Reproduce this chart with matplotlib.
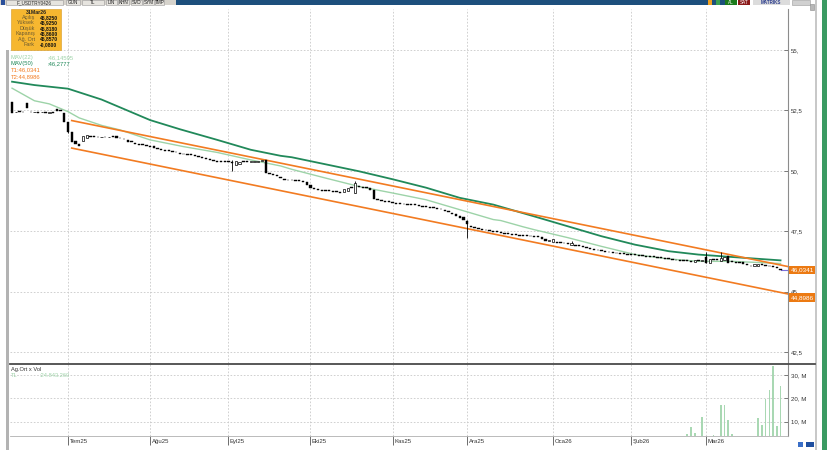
import matplotlib
matplotlib.use('Agg')
import matplotlib.pyplot as plt
import matplotlib.transforms as mtransforms
from matplotlib.patches import Rectangle
import numpy as np
import pandas as pd

plt.rcParams['font.family'] = ['Liberation Sans', 'DejaVu Sans']

W, H = 833, 450

# ---------------- data ----------------
start_date = '2025-06-10'
end_date = '2026-03-31'
holidays = ['2025-07-15', '2025-10-29', '2026-01-01', '2026-03-20']

open_jun = [52.85, 52.42, 52.45, 52.45, 52.80, 52.44, 52.42, 52.43, 52.42, 52.45, 52.40, 52.42, 52.56, 52.52, 52.40]
close_jun = [52.40, 52.45, 52.45, 52.42, 52.60, 52.42, 52.45, 52.40, 52.44, 52.40, 52.42, 52.38, 52.48, 52.46, 52.00]

open_jul = [52.00, 51.62, 51.22, 51.12, 51.25, 51.35, 51.42, 51.40, 51.40, 51.38, 51.40, 51.38, 51.44, 51.42,
            51.35, 51.33, 51.26, 51.24, 51.14, 51.10, 51.08, 51.06]
close_jul = [51.62, 51.20, 51.10, 51.02, 51.45, 51.48, 51.40, 51.40, 51.38, 51.40, 51.38, 51.39, 51.38, 51.37,
             51.34, 51.30, 51.20, 51.18, 51.10, 51.08, 51.06, 51.03]

open_aug = [51.04, 51.02, 50.94, 50.90, 50.86, 50.84, 50.80, 50.78, 50.72, 50.70, 50.68, 50.66, 50.64, 50.58,
            50.54, 50.50, 50.48, 50.45, 50.38, 50.37, 50.36]
close_aug = [50.98, 50.96, 50.92, 50.88, 50.84, 50.82, 50.79, 50.76, 50.70, 50.68, 50.66, 50.65, 50.62, 50.56,
             50.52, 50.48, 50.45, 50.42, 50.37, 50.36, 50.35]

open_sep = [50.36, 50.36, 50.26, 50.30, 50.38, 50.37, 50.36, 50.37, 50.38, 50.40, 50.45, 49.90, 49.86, 49.82,
            49.76, 49.64, 49.62, 49.60, 49.60, 49.58, 49.56, 49.55]
close_sep = [50.35, 50.34, 50.40, 50.38, 50.37, 50.36, 50.37, 50.38, 50.40, 50.42, 49.92, 49.87, 49.84, 49.78,
             49.72, 49.62, 49.60, 49.60, 49.58, 49.57, 49.55, 49.40]

open_oct = [49.42, 49.28, 49.22, 49.20, 49.18, 49.17, 49.16, 49.14, 49.12, 49.14, 49.18, 49.30, 49.10, 49.36,
            49.33, 49.30, 49.30, 49.22, 48.80, 48.77, 48.74, 48.72]
close_oct = [49.30, 49.24, 49.20, 49.18, 49.17, 49.16, 49.14, 49.12, 49.10, 49.26, 49.30, 49.30, 49.50, 49.34,
             49.30, 49.28, 49.22, 48.82, 48.78, 48.75, 48.72, 48.70]

open_nov = [48.70, 48.66, 48.64, 48.62, 48.61, 48.60, 48.58, 48.56, 48.53, 48.51, 48.49, 48.46, 48.44, 48.42,
            48.36, 48.32, 48.26, 48.20, 48.12, 48.08]
close_nov = [48.68, 48.64, 48.63, 48.61, 48.60, 48.58, 48.57, 48.54, 48.52, 48.50, 48.47, 48.45, 48.42, 48.40,
             48.32, 48.28, 48.22, 48.14, 48.06, 47.98]

open_dec = [47.92, 47.72, 47.66, 47.62, 47.58, 47.55, 47.52, 47.49, 47.47, 47.45, 47.42, 47.39, 47.37, 47.35,
            47.33, 47.32, 47.30, 47.28, 47.27, 47.26, 47.24, 47.16, 47.10]
close_dec = [47.78, 47.68, 47.63, 47.60, 47.56, 47.53, 47.50, 47.48, 47.46, 47.44, 47.40, 47.38, 47.36, 47.34,
             47.32, 47.30, 47.29, 47.28, 47.26, 47.25, 47.16, 47.08, 47.12]

open_jan = [47.06, 47.04, 47.02, 47.00, 46.99, 46.94, 46.92, 46.89, 46.86, 46.83, 46.78, 46.74, 46.71, 46.68,
            46.66, 46.63, 46.61, 46.59, 46.57, 46.56, 46.55]
close_jan = [47.18, 47.02, 47.00, 46.99, 46.98, 47.02, 46.90, 46.88, 46.85, 46.81, 46.75, 46.72, 46.70, 46.67,
             46.65, 46.62, 46.60, 46.58, 46.56, 46.55, 46.53]

open_feb = [46.52, 46.51, 46.50, 46.48, 46.46, 46.45, 46.43, 46.41, 46.39, 46.37, 46.35, 46.33, 46.30, 46.29,
            46.28, 46.26, 46.25, 46.22, 46.29, 46.28]
close_feb = [46.51, 46.50, 46.48, 46.47, 46.45, 46.44, 46.42, 46.40, 46.38, 46.36, 46.34, 46.31, 46.29, 46.28,
             46.27, 46.25, 46.24, 46.30, 46.28, 46.30]

open_mar = [46.42, 46.18, 46.33, 46.31, 46.28, 46.30, 46.48, 46.22, 46.21, 46.20, 46.24, 46.12, 46.07, 46.04,
            46.06, 46.10, 46.08, 46.06, 46.04, 46.02, 45.95]
close_mar = [46.20, 46.36, 46.31, 46.30, 46.38, 46.42, 46.18, 46.21, 46.20, 46.20, 46.12, 46.08, 46.04, 46.12,
             46.12, 46.09, 46.06, 46.04, 46.03, 45.98, 45.88]

wick_idx = [15, 59, 92, 122, 150, 186, 190]
wick_low = [51.55, 50.00, 49.10, 47.23, 46.94, 46.20, 46.28]
wick_high = [52.00, 50.45, 49.56, 47.95, 47.08, 46.65, 46.62]

mav22_idx = [0, 6, 10, 15, 18, 24, 29, 37, 46, 55, 64, 72, 75, 84, 93, 102, 111, 120, 129, 131, 137, 140,
             149, 158, 167, 176, 184, 193, 206]
mav22_val = [53.42, 52.90, 52.77, 52.45, 52.19, 51.88, 51.69, 51.28, 51.00, 50.76, 50.45, 50.20, 50.06, 49.70,
             49.35, 49.08, 48.80, 48.39, 47.98, 47.94, 47.68, 47.56, 47.23, 46.87, 46.53, 46.35, 46.25, 46.25, 46.16]

mav50_idx = [0, 6, 15, 24, 37, 45, 55, 64, 72, 75, 84, 93, 102, 111, 120, 129, 140, 149, 158, 167, 176, 184,
             193, 206]
mav50_val = [53.69, 53.55, 53.40, 52.95, 52.10, 51.72, 51.28, 50.87, 50.62, 50.56, 50.27, 49.98, 49.65, 49.30,
             48.88, 48.60, 48.11, 47.70, 47.29, 46.94, 46.67, 46.53, 46.43, 46.29]

trend_start_idx = 16
t1_vals = [52.08, 46.0341]
t2_vals = [50.94, 44.8986]

vol_idx = [179, 181, 182, 183, 184, 185, 188, 190, 191, 192, 193, 200, 201, 202, 203, 204, 205, 206]
vol_val = [3.9, 4.8, 7.9, 5.3, 4.0, 11.9, 4.2, 17.1, 17.0, 10.6, 4.8, 11.7, 8.7, 19.6, 23.5, 34.0, 8.0, 25.3]

month_labels = ['Tem25', 'Ağu25', 'Eyl25', 'Eki25', 'Kas25', 'Ara25', 'Oca26', 'Şub26', 'Mar26']
price_ticks = [42.5, 45, 47.5, 50, 52.5, 55]
price_tick_labels = ['42,5', '45,', '47,5', '50,', '52,5', '55,']
vol_ticks = [10, 20, 30]
vol_tick_labels = ['10, M', '20, M', '30, M']

info_title = '31Mar26'
info_labels = ['Açılış', 'Yüksek', 'Düşük', 'Kapanış', 'Ağ. Ort', 'Fark']
info_values = ['45,8250', '45,9250', '45,8180', '45,8600', '45,8570', '-0,0800']

legend_names = ['MAV(22)', 'MAV(50)', 'T1:46,0341', 'T2:44,8986']
legend_values = [':46,14595', ':46,2777', '', '']
vol_title = 'Ag.Ort x Vol'
vol_avg_label = 'TL'
vol_avg_value = ':24.843.260'

# ---------------- colours ----------------
C_MAV22 = '#9dd3a8'
C_MAV50 = '#21895a'
C_TREND = '#f27b21'
C_GRID = '#c9c9c9'
C_VOL = '#a9d8b3'
C_TEXT = '#333333'

# ---------------- build ----------------
dates = pd.bdate_range(start_date, end_date)
dates = dates[~dates.isin(pd.to_datetime(holidays))]
opens = np.array(open_jun + open_jul + open_aug + open_sep + open_oct + open_nov + open_dec + open_jan + open_feb + open_mar)
closes = np.array(close_jun + close_jul + close_aug + close_sep + close_oct + close_nov + close_dec + close_jan + close_feb + close_mar)
n = min(len(dates), len(closes))
dates = dates[:n]
opens = opens[:n]
closes = closes[:n]
idx = np.arange(n)
ser = pd.Series(idx, index=dates)
month_idx = [int(g.iloc[0]) for _, g in ser.groupby([dates.year, dates.month])][1:]

fig = plt.figure(figsize=(W / 100, H / 100), dpi=100)
fig.patch.set_facecolor('white')


def px_rect(l, t, r, b):
    return [l / W, 1 - b / H, (r - l) / W, (b - t) / H]


ax = fig.add_axes(px_rect(10, 9, 788, 363))
vax = fig.add_axes(px_rect(10, 364, 788, 436), sharex=ax)
XL, XR = -0.55, 208.0
ax.set_xlim(XL, XR)
ax.set_ylim(42.04, 56.70)
vax.set_ylim(3.86, 34.76)

for a in (ax, vax):
    for s in ('left', 'top', 'bottom'):
        a.spines[s].set_visible(False)
    a.spines['right'].set_color('#8c8c8c')
    a.spines['right'].set_linewidth(0.8)
    a.yaxis.tick_right()
    a.tick_params(axis='y', direction='in', length=3, width=0.6, color='#666666',
                  labelsize=4.4, labelcolor=C_TEXT, pad=2)
    a.set_xticks(month_idx)
    a.grid(True, color=C_GRID, linestyle=(0, (2, 2)), linewidth=0.6)
    a.set_axisbelow(True)

ax.set_yticks(price_ticks)
ax.set_yticklabels(price_tick_labels)
ax.tick_params(axis='x', length=0, labelbottom=False)
vax.set_yticks(vol_ticks)
vax.set_yticklabels(vol_tick_labels)
vax.tick_params(axis='x', direction='out', length=6.5, width=0.6, color='#555555', labelbottom=False)

# moving averages
ax.plot(mav22_idx, mav22_val, color=C_MAV22, lw=1.0, zorder=2)
ax.plot(mav50_idx, mav50_val, color=C_MAV50, lw=1.3, zorder=2)

# trend lines
ax.plot([trend_start_idx, XR], t1_vals, color=C_TREND, lw=1.2, zorder=3)
ax.plot([trend_start_idx, XR], t2_vals, color=C_TREND, lw=1.2, zorder=3)

# last price line
ax.plot([idx[-1], XR], [closes[-1], closes[-1]], color='#7b6fd8', lw=0.8, zorder=3)

# candles
up = closes > opens
lo = np.minimum(opens, closes)
hgt = np.maximum(np.abs(closes - opens), 0.035)
ax.vlines(wick_idx, wick_low, wick_high, color='black', lw=0.6, zorder=4)
ax.bar(idx[~up], hgt[~up], bottom=lo[~up], width=0.62, color='black', edgecolor='black', lw=0.3, zorder=5)
ax.bar(idx[up], hgt[up], bottom=lo[up], width=0.62, color='white', edgecolor='black', lw=0.5, zorder=5)

# volume
vax.bar(vol_idx, vol_val, width=0.45, color=C_VOL, zorder=3)

# value boxes on right axis
btr = mtransforms.blended_transform_factory(ax.transAxes, ax.transData)
btr = mtransforms.offset_copy(btr, fig=fig, x=2.5, y=-3.5, units='dots')
for v in (t1_vals[1], t2_vals[1]):
    ax.text(1.0, v, f'{v:.4f}'.replace('.', ','), transform=btr, fontsize=4.6, color='white',
            ha='left', va='center', clip_on=False, zorder=20,
            bbox=dict(boxstyle='square,pad=0.3', fc='#ec7a12', ec='none'))

# month labels
vtr = mtransforms.blended_transform_factory(vax.transData, vax.transAxes)
for mi, lab in zip(month_idx, month_labels):
    vax.text(mi + 0.4, -0.035, lab, transform=vtr, fontsize=4.3, color=C_TEXT,
             ha='left', va='top', clip_on=False)

# ---------------- overlay decorations (pixel space) ----------------
ov = fig.add_axes([0, 0, 1, 1], zorder=10)
ov.set_xlim(0, W)
ov.set_ylim(H, 0)
ov.axis('off')
ov.patch.set_visible(False)

# toolbar
ov.add_patch(Rectangle((0, 0), 176, 5, fc='#d6d3cc', ec='none'))
ov.add_patch(Rectangle((176, 0), 549, 5, fc='#1d4f7c', ec='none'))
ov.add_patch(Rectangle((1, 0), 4, 4.5, fc='#2a4f9a', ec='none'))
buttons = [('F_USDTRY0426', 6, 63), ('GUN', 66, 80), ('TL', 82, 104), ('LIN', 106, 117), ('KHN', 118, 129),
           ('SVD', 131, 142), ('SYM', 143, 154), ('TMP', 155, 164)]
for t, a0, a1 in buttons:
    ov.add_patch(Rectangle((a0, 0), a1 - a0, 4.5, fc='#e6e4df', ec='#9a9a9a', lw=0.4))
    ov.text((a0 + a1) / 2, 2.6, t, fontsize=3.3, ha='center', va='center', color='#222222')
ov.add_patch(Rectangle((708, 0), 4, 4.5, fc='#f0a020', ec='none'))
ov.add_patch(Rectangle((716, 0), 4, 4.5, fc='#3aa050', ec='none'))
ov.add_patch(Rectangle((725, 0), 12, 4.5, fc='#1b7a1b', ec='none'))
ov.text(731, 2.6, 'AL', fontsize=3.3, ha='center', va='center', color='white')
ov.add_patch(Rectangle((738, 0), 12, 4.5, fc='#8b1a1a', ec='none'))
ov.text(744, 2.6, 'SAT', fontsize=3.3, ha='center', va='center', color='white')
ov.add_patch(Rectangle((753, 0), 37, 4.5, fc='#dcdcdc', ec='none'))
ov.text(771, 2.6, 'MATRİKS', fontsize=3.3, ha='center', va='center', color='#2a3b8c', fontweight='bold')
ov.add_patch(Rectangle((792, 0), 18, 4.5, fc='#d0d0d0', ec='#9a9a9a', lw=0.4))
ov.add_patch(Rectangle((810, 4), 4, 6, fc='#b8b8b8', ec='#8a8a8a', lw=0.4))

# left gray bar, right border and green strip
ov.add_patch(Rectangle((6, 50), 3.5, 400, fc='#b3b3b3', ec='none'))
ov.add_patch(Rectangle((815.5, 0), 2, 450, fc='#c8c8c8', ec='none'))
ov.add_patch(Rectangle((822, 0), 5.5, 450, fc='#3b9b63', ec='none'))

# separator between panels and bottom line
ov.plot([10, 815], [363.8, 363.8], color='#4a4a4a', lw=1.3)
ov.plot([10, 788], [436.2, 436.2], color='#b0b0b0', lw=0.6)

# bottom right icons
ov.add_patch(Rectangle((798, 442), 5, 5, fc='#3a6fc8', ec='none'))
ov.add_patch(Rectangle((806, 442), 8, 5, fc='#1f4fa0', ec='none'))

# info box
ov.add_patch(Rectangle((11, 9), 50, 41, fc='#f6b730', ec='#d89a20', lw=0.4))
ov.text(36, 12.5, info_title, fontsize=3.8, ha='center', va='center', color='#222222', fontweight='bold')
for k, (lab, val) in enumerate(zip(info_labels, info_values)):
    yy = 17.5 + 5.4 * k
    ov.text(35, yy, lab, fontsize=3.9, ha='right', va='center', color='#6b5a30')
    ov.text(39.5, yy, val, fontsize=3.6, ha='left', va='center', color='#111111', fontweight='bold')

# legend texts
leg_colors = [C_MAV22, C_MAV50, C_TREND, C_TREND]
for k, (nm, vv, cc) in enumerate(zip(legend_names, legend_values, leg_colors)):
    yy = 57.5 + 6.3 * k
    ov.text(11, yy, nm, fontsize=4.2, ha='left', va='center', color=cc)
    if vv:
        ov.text(47, yy, vv, fontsize=4.2, ha='left', va='center', color=cc)

# volume panel texts
ov.text(11, 369, vol_title, fontsize=4.1, ha='left', va='center', color='#333333')
ov.text(11, 375.5, vol_avg_label, fontsize=4.1, ha='left', va='center', color=C_MAV22)
ov.text(39, 375.5, vol_avg_value, fontsize=4.1, ha='left', va='center', color=C_MAV22)

fig.savefig('out.png', dpi=100)
